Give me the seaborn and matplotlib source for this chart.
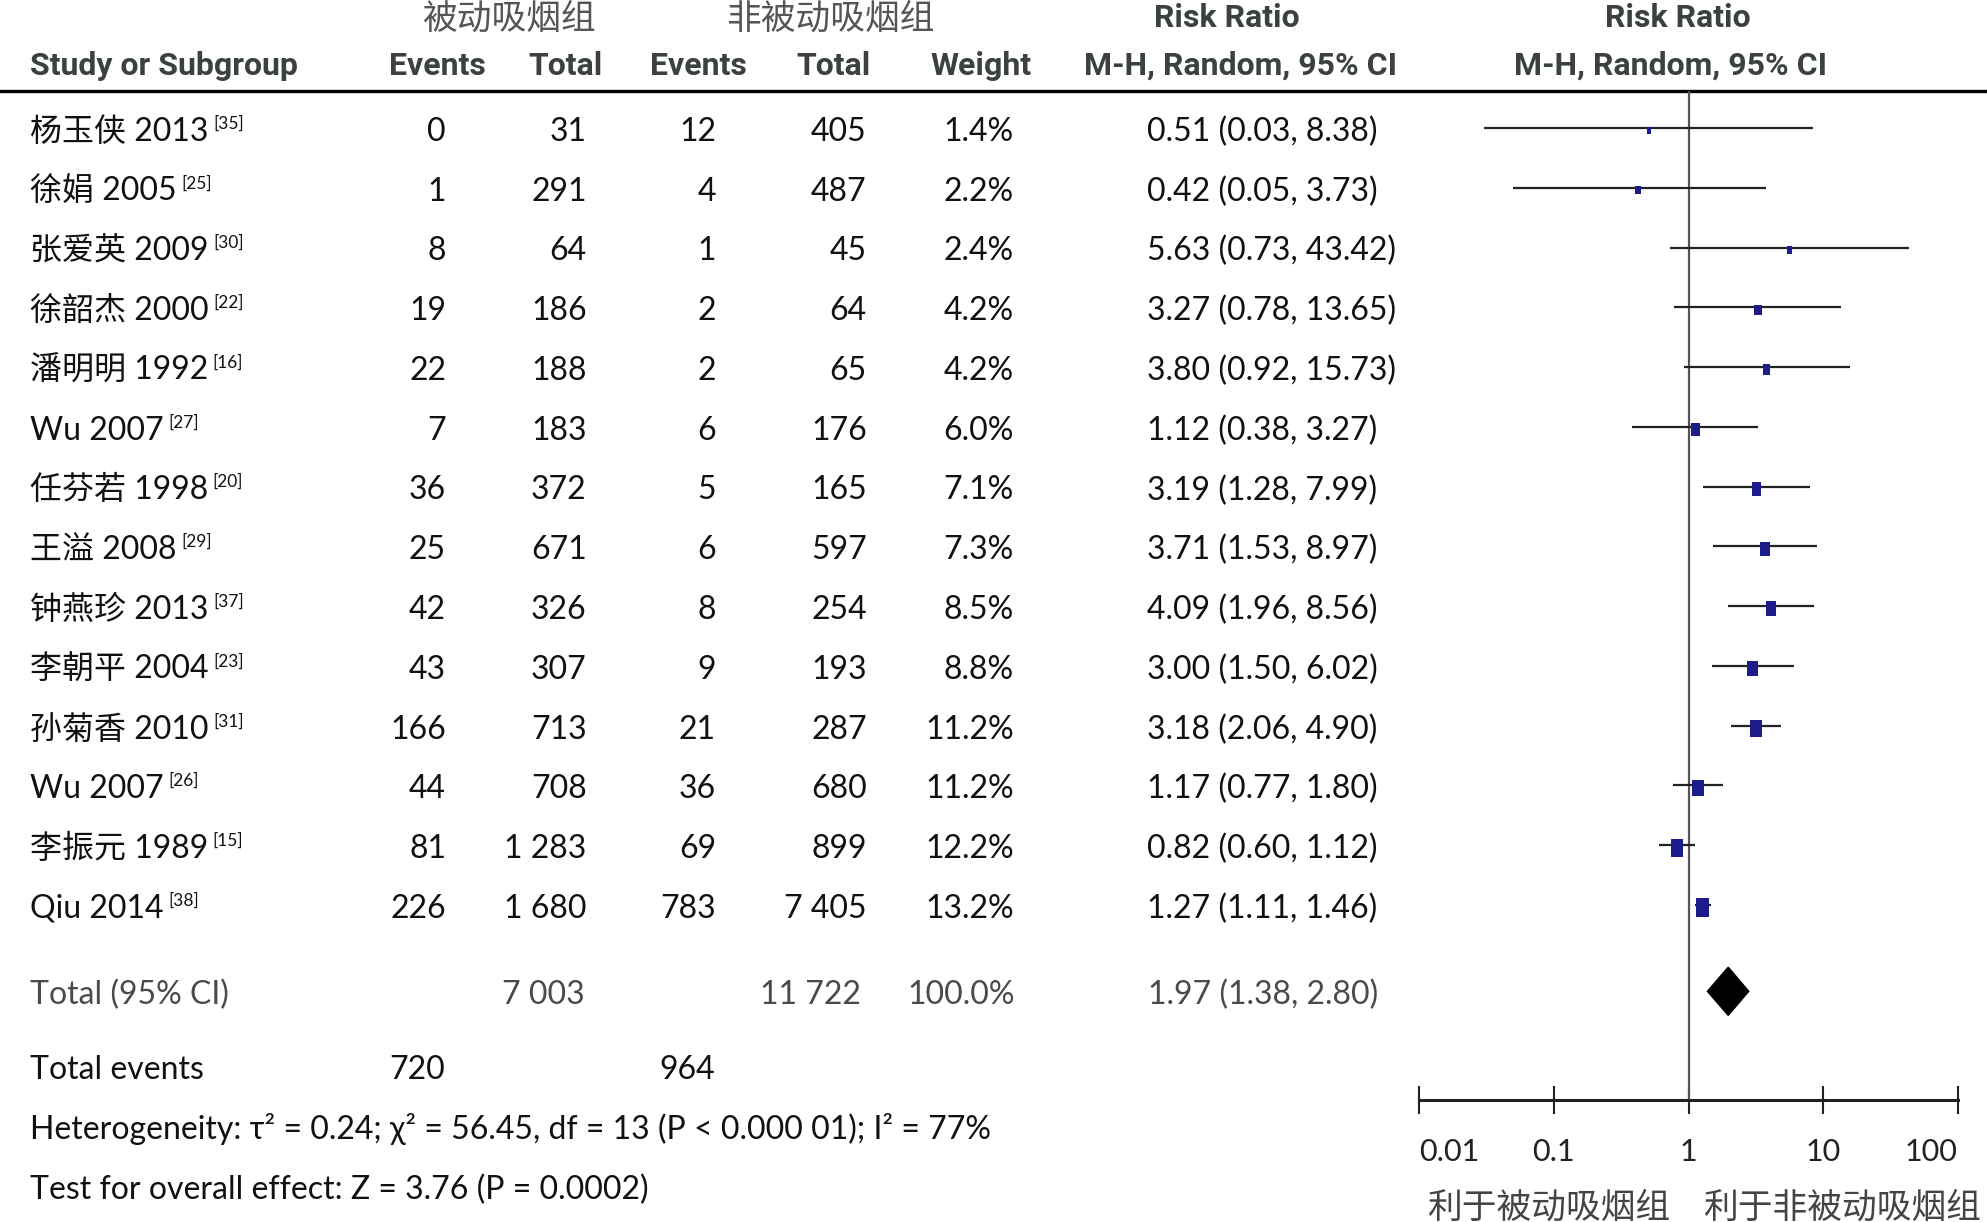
import matplotlib
matplotlib.use('Agg')
import matplotlib.pyplot as plt
from matplotlib import font_manager
import numpy as np
import pandas as pd
import seaborn as sns

# --- datos ---
studies = ['杨玉侠 2013', '徐娟 2005', '张爱英 2009', '徐韶杰 2000', '潘明明 1992', 'Wu 2007',
           '任芬若 1998', '王溢 2008', '钟燕珍 2013', '李朝平 2004', '孙菊香 2010', 'Wu 2007',
           '李振元 1989', 'Qiu 2014']
refs = ['[35]', '[25]', '[30]', '[22]', '[16]', '[27]', '[20]', '[29]', '[37]', '[23]',
        '[31]', '[26]', '[15]', '[38]']
exp_events = [0, 1, 8, 19, 22, 7, 36, 25, 42, 43, 166, 44, 81, 226]
exp_total = [31, 291, 64, 186, 188, 183, 372, 671, 326, 307, 713, 708, 1283, 1680]
ctl_events = [12, 4, 1, 2, 2, 6, 5, 6, 8, 9, 21, 36, 69, 783]
ctl_total = [405, 487, 45, 64, 65, 176, 165, 597, 254, 193, 287, 680, 899, 7405]
weight = [1.4, 2.2, 2.4, 4.2, 4.2, 6.0, 7.1, 7.3, 8.5, 8.8, 11.2, 11.2, 12.2, 13.2]
rr = [0.51, 0.42, 5.63, 3.27, 3.80, 1.12, 3.19, 3.71, 4.09, 3.00, 3.18, 1.17, 0.82, 1.27]
rr_lo = [0.03, 0.05, 0.73, 0.78, 0.92, 0.38, 1.28, 1.53, 1.96, 1.50, 2.06, 0.77, 0.60, 1.11]
rr_hi = [8.38, 3.73, 43.42, 13.65, 15.73, 3.27, 7.99, 8.97, 8.56, 6.02, 4.90, 1.80, 1.12, 1.46]

total_rr, total_lo, total_hi = 1.97, 1.38, 2.80
total_exp, total_ctl = 7003, 11722
total_weight = 100.0
events_exp, events_ctl = 720, 964
het_text = 'Heterogeneity: τ² = 0.24; χ² = 56.45, df = 13 (P < 0.000 01); I² = 77%'
effect_text = 'Test for overall effect: Z = 3.76 (P = 0.0002)'

group_names = ['被动吸烟组', '非被动吸烟组']
favours = ['利于被动吸烟组', '利于非被动吸烟组']
tick_vals = [0.01, 0.1, 1, 10, 100]
tick_labels = ['0.01', '0.1', '1', '10', '100']

# --- estilo ---
sns.set_theme(style='white')
body_fonts = ['Lato', 'Noto Sans CJK SC', 'DejaVu Sans']
plt.rcParams['font.family'] = body_fonts

installed = {f.name for f in font_manager.fontManager.ttflist}
head_font = 'Roboto'
for cand in ['Liberation Sans Narrow', 'DejaVu Sans Condensed', 'Roboto']:
    if cand in installed:
        head_font = cand
        break
head_fonts = [head_font, 'Noto Sans CJK SC', 'DejaVu Sans']
cjk_fonts = ['Noto Sans CJK SC', 'DejaVu Sans']

W, H = 1568, 964          # unidades de maquetación
y_head_line = 72
y_axis = 868
row_y = 101 + 47.15 * np.arange(len(studies))
y_total, y_events, y_het, y_eff = 782, 841, 888, 936
dy = 3                    # ajuste vertical del texto

df = pd.DataFrame({'study': studies, 'ref': refs, 'e1': exp_events, 'n1': exp_total,
                   'e2': ctl_events, 'n2': ctl_total, 'w': weight, 'rr': rr,
                   'lo': rr_lo, 'hi': rr_hi, 'y': row_y})


def fmt(n):
    return f'{n:,}'.replace(',', ' ')


fig = plt.figure(figsize=(19.87, 12.22), dpi=100)
tab = fig.add_axes([0, 0, 1, 1])
tab.set_xlim(0, W)
tab.set_ylim(H, 0)
tab.axis('off')

fs = 23
ink = '#111111'
head_col = '#3b4141'
# cabecera
for name, cx in zip(group_names, [402, 655]):
    tab.text(cx, 15, name, ha='center', va='center', fontsize=25, color='#555555',
             family=cjk_fonts, fontweight='medium')
for cx in [968, 1324]:
    tab.text(cx, 14, 'Risk Ratio', ha='center', va='center', fontsize=fs, color=head_col,
             family=head_fonts, fontweight='bold')
tab.text(24, 52, 'Study or Subgroup', ha='left', va='center', fontsize=fs, color=head_col,
         family=head_fonts, fontweight='bold')
for lab, cx in zip(['Events', 'Total', 'Events', 'Total', 'Weight'], [345, 446, 551, 658, 774]):
    tab.text(cx, 52, lab, ha='center', va='center', fontsize=fs, color=head_col,
             family=head_fonts, fontweight='bold')
for cx in [979, 1318]:
    tab.text(cx, 52, 'M-H, Random, 95% CI', ha='center', va='center', fontsize=fs,
             color=head_col, family=head_fonts, fontweight='bold')
tab.plot([0, W], [y_head_line, y_head_line], color='black', lw=2.4)

# filas de estudios
for _, r in df.iterrows():
    yy = r['y'] + dy
    t = tab.text(24, yy, r['study'], ha='left', va='center', fontsize=fs, color=ink)
    tab.annotate(r['ref'], xy=(1, 1), xycoords=t, xytext=(3, 1), textcoords='offset points',
                 ha='left', va='top', fontsize=12.5, color=ink)
    tab.text(352, yy, fmt(r['e1']), ha='right', va='center', fontsize=fs, color=ink)
    tab.text(463, yy, fmt(r['n1']), ha='right', va='center', fontsize=fs, color=ink)
    tab.text(565, yy, fmt(r['e2']), ha='right', va='center', fontsize=fs, color=ink)
    tab.text(684, yy, fmt(r['n2']), ha='right', va='center', fontsize=fs, color=ink)
    tab.text(800, yy, f"{r['w']:.1f}%", ha='right', va='center', fontsize=fs, color=ink)
    tab.text(905, yy, f"{r['rr']:.2f} ({r['lo']:.2f}, {r['hi']:.2f})", ha='left',
             va='center', fontsize=fs, color=ink)

# total
grey = '#4a4a4a'
yt = y_total + dy
tab.text(24, yt, 'Total (95% CI)', ha='left', va='center', fontsize=fs, color=grey)
tab.text(461, yt, fmt(total_exp), ha='right', va='center', fontsize=fs, color=grey)
tab.text(679, yt, fmt(total_ctl), ha='right', va='center', fontsize=fs, color=grey)
tab.text(801, yt, f'{total_weight:.1f}%', ha='right', va='center', fontsize=fs, color=grey)
tab.text(906, yt, f'{total_rr:.2f} ({total_lo:.2f}, {total_hi:.2f})', ha='left',
         va='center', fontsize=fs, color=grey)
tab.text(24, y_events + dy, 'Total events', ha='left', va='center', fontsize=fs, color=ink)
tab.text(351, y_events + dy, fmt(events_exp), ha='right', va='center', fontsize=fs, color=ink)
tab.text(564, y_events + dy, fmt(events_ctl), ha='right', va='center', fontsize=fs, color=ink)
tab.text(24, y_het + dy, het_text, ha='left', va='center', fontsize=fs, color=ink)
tab.text(24, y_eff + dy, effect_text, ha='left', va='center', fontsize=fs, color=ink)

# etiquetas "a favor de"
for lab, cx in zip(favours, [1222, 1454]):
    tab.text(cx, 953, lab, ha='center', va='center', fontsize=25, color='#444444',
             family=cjk_fonts, fontweight='medium')

# --- forest plot ---
x0, x1 = 1120, 1545
ax = fig.add_axes([x0 / W, 1 - y_axis / H, (x1 - x0) / W, (y_axis - y_head_line) / H])
ax.set_facecolor('none')
ax.set_xscale('log')
ax.set_xlim(tick_vals[0], tick_vals[-1])
ax.set_ylim(y_axis, y_head_line)

ax.axvline(1, color='#555555', lw=1.6, zorder=1)
ax.hlines(df['y'], df['lo'], df['hi'], color='#222222', lw=1.6, zorder=2)
box = [(-0.36, -0.5), (0.36, -0.5), (0.36, 0.5), (-0.36, 0.5), (-0.36, -0.5)]
sns.scatterplot(data=df.assign(ym=df['y'] + 2), x='rr', y='ym', size='w', sizes=(20, 175),
                size_norm=(1.4, 13.2), marker=box, color='#1c1c8c', edgecolor='#1c1c8c',
                linewidth=0, legend=False, ax=ax, zorder=3)
ax.fill([total_lo, total_rr, total_hi, total_rr],
        [y_total, y_total - 19, y_total, y_total + 19], color='black', zorder=3)

for s in ['left', 'top', 'right']:
    ax.spines[s].set_visible(False)
ax.spines['bottom'].set_color('#222222')
ax.spines['bottom'].set_linewidth(2.2)
ax.set_yticks([])
ax.set_xticks(tick_vals)
ax.set_xticklabels(tick_labels)
ax.minorticks_off()
ax.tick_params(axis='x', which='major', direction='inout', length=20, width=1.5,
               color='#222222', pad=17, labelsize=22, labelcolor='#222222', bottom=True)
lbls = ax.get_xticklabels()
lbls[0].set_ha('left')
lbls[-1].set_ha('right')
ax.set_xlabel('')
ax.set_ylabel('')

fig.savefig('out.png', dpi=100)
